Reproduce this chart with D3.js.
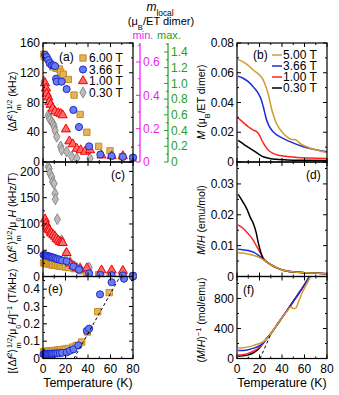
<!DOCTYPE html>
<html>
<head>
<meta charset="utf-8">
<script src="https://cdn.jsdelivr.net/npm/d3@7"></script>
<style>
body { margin: 0; background: #fff; }
svg { font-family: "Liberation Sans", Arial, sans-serif; }
</style>
</head>
<body>
<svg id="fig" width="339" height="395"></svg>
<script>
// ---- data ----
const fieldLabelsA = ["6.00 T", "3.66 T", "1.00 T", "0.30 T"];
const fieldLabelsB = ["5.00 T", "3.66 T", "1.00 T", "0.30 T"];

// (a) linewidth (kHz) vs T (K)
const widthA6 = [[0.8,145],[1.2,141.5],[2.5,140],[6.2,133],[8.6,128],[11.6,126],[14.5,125],[15.7,121],[18,118],[22.5,111],[27.6,90],[33,64],[39,40],[49.5,21],[59.6,15],[70.5,7],[80,5]];
const widthA366 = [[1.8,144],[3.3,141],[4.7,137],[6,133],[7.7,130],[9.2,130],[10.7,129],[11.6,112],[12.2,108],[16.6,108],[21,98],[27,70],[32,47],[41,21],[51,10],[61,8],[71,7],[80,6]];
const widthA1 = [[1.8,106],[2.7,99],[3.3,92],[4.7,87],[5.6,81],[6.8,77],[8.6,72],[10.7,68],[13.6,66],[15.7,65],[17.5,63],[20.4,44],[23.4,28],[26.4,24],[30,18],[33.5,16],[37.3,14],[41.8,16],[52,9],[61,8],[71,8]];
const widthA03 = [[1,108],[4.7,63],[5.5,60],[6.2,57],[7.7,54],[9.2,51],[10,47],[10.7,42],[12.2,34],[15.7,21],[16.6,16],[21,14],[25.5,7],[30,5],[41.8,5]];

// (c) linewidth / field (kHz/T)
const ratioC6 = [[0.5,26],[1.5,25.5],[2.5,25],[3.5,24.5],[4.5,24],[5.5,23.5],[6.5,23],[7.5,22.5],[8.5,22],[10,21.5],[11.5,21],[13,20.5],[14.5,20],[16,19.5],[18,19],[20,18],[22.5,17],[27.6,15],[33,11],[39,7],[49.5,3.5],[59.6,2.5],[70.5,1.2],[80,0.9]];
const ratioC366 = [[0.5,41],[1.5,40.5],[2.5,40],[3.5,39.5],[4.5,39],[5.5,38],[6.5,37.5],[7.5,37],[8.5,36],[10,35.5],[11.5,34],[13,33],[15,32],[17,30.5],[21,29],[27,19],[32,13],[41,6],[51,3],[61,2.5],[71,2],[80,1.6]];
const ratioC1 = [[1.8,109],[2.7,101],[3.8,95],[4.7,90],[5.6,88],[6.8,84],[7.7,82],[9.2,79],[10.7,76],[12,72],[13.6,69],[15,66],[16.5,65],[17.5,64],[21,45],[24,25],[27,20],[30,16],[33,14],[39,16],[52,12],[61,12],[71,11]];
const ratioC03 = [[4.7,209],[5.5,205],[6.2,196],[7.7,190],[8.6,180],[9.8,177],[10.7,158],[11,147],[12.7,109],[16.6,69],[20.4,44],[24,28],[28.4,19],[33,16],[41,17]];

// (e) inverse (T/kHz)
const invE6 = [[0.5,0.040],[1.5,0.040],[2.5,0.041],[3.5,0.041],[4.5,0.042],[5.5,0.042],[6.5,0.043],[7.5,0.044],[8.5,0.045],[10,0.046],[11.5,0.047],[13,0.048],[14.5,0.05],[16,0.051],[18,0.053],[20,0.055],[22.5,0.058],[26.4,0.066],[29.5,0.075],[34.4,0.095],[39.4,0.153],[48.6,0.27],[58.9,0.38],[71,0.48],[80,0.48]];
const invE366 = [[0.5,0.024],[1.5,0.025],[2.5,0.025],[3.5,0.025],[4.5,0.026],[5.5,0.026],[6.5,0.027],[7.5,0.027],[8.5,0.028],[10,0.028],[11.5,0.029],[13,0.030],[15,0.031],[17,0.033],[21,0.035],[24,0.045],[27,0.053],[31.4,0.076],[39,0.16],[41,0.172],[50.7,0.37],[61,0.44],[72,0.46],[80,0.472]];
const fitE = [[27.5,0],[68.5,0.473]];

// (b) M (muB / ET dimer)
const magB5 = [[1,0.0688],[5,0.0675],[10,0.065],[15,0.0615],[20,0.0585],[23,0.0555],[26,0.05],[28,0.045],[31,0.035],[35,0.026],[41,0.0193],[45,0.0165],[48.6,0.0152],[51,0.0151],[53,0.0146],[56,0.0125],[63,0.0099],[70,0.0082],[80,0.0062]];
const magB366 = [[1,0.0576],[5,0.0565],[10,0.054],[15,0.05],[19,0.046],[21.5,0.042],[23.4,0.037],[25,0.032],[26.4,0.028],[28,0.025],[30.8,0.0215],[34,0.019],[38,0.017],[47,0.0137],[59,0.0103],[71,0.008],[80,0.0069]];
const magB1 = [[1,0.0296],[5,0.027],[10,0.0237],[15,0.0213],[17.5,0.0204],[20,0.018],[22,0.0148],[24,0.012],[26.4,0.0092],[29,0.0072],[32,0.0058],[36,0.0047],[41,0.004],[53,0.0031],[65,0.0027],[80,0.0024]];
const magB03 = [[1,0.0145],[5,0.0125],[8,0.0108],[11.6,0.0092],[15,0.0075],[19,0.0054],[22,0.004],[26.4,0.0028],[30,0.0022],[35,0.0018],[45,0.0014],[60,0.0012],[80,0.001]];

// (d) M/H (emu/mol)
const chiD5 = [[1,0.0077],[5,0.0076],[10,0.0073],[15,0.0068],[20,0.0061],[25,0.0051],[28,0.0043],[32,0.0034],[36,0.0027],[41,0.002],[47,0.0016],[53,0.0014],[60,0.0012],[68,0.0011],[80,0.0009]];
const chiD366 = [[1,0.0088],[5,0.0087],[10,0.0084],[15,0.0078],[20,0.0066],[25,0.0052],[28,0.0043],[32,0.0034],[36,0.0027],[41,0.002],[47,0.0016],[53,0.0014],[60,0.0012],[68,0.0011],[80,0.0009]];
const chiD1 = [[1,0.0167],[5,0.0157],[8.6,0.0144],[12,0.013],[14.5,0.0117],[17,0.0101],[20.4,0.0079],[25,0.0052],[28,0.0043],[32,0.0034],[36,0.0027],[41,0.002],[47,0.0016],[53,0.0014],[60,0.0012],[68,0.0011],[80,0.0009]];
const chiD03 = [[1,0.0266],[3,0.0255],[5,0.0243],[8.6,0.022],[12,0.019],[14.5,0.0172],[17,0.0143],[19,0.0108],[21,0.008],[23.4,0.0056],[25,0.0051],[28,0.0043],[32,0.0034],[36,0.0027],[41,0.002],[47,0.0016],[53,0.0014],[60,0.0012],[68,0.0011],[80,0.0009]];

// (f) (M/H)^-1 (mol/emu)
const invF5 = [[1,140],[5,143],[10,155],[15,175],[20,200],[23,220],[26,255],[30,330],[35,435],[40,545],[45,640],[48,690],[50,665],[52,668],[55,770],[58,880],[62,995],[65.5,1095]];
const invF366 = [[1,105],[5,108],[10,118],[15,138],[20,170],[23,200],[26,255],[30,330],[35,435],[40,545],[45,650],[50,760],[55,870],[60,985],[64.5,1095]];
const invF1 = [[1,45],[5,50],[10,68],[15,100],[20,150],[23,200],[26,260],[30,330],[35,435],[40,545],[45,650],[50,760],[55,870],[60,985],[64.5,1095]];
const invF03 = [[1,30],[5,35],[10,48],[15,80],[18,110],[20,140],[23,200],[26,260],[30,330],[35,435],[40,545],[45,650],[50,760],[55,870],[60,985],[64.5,1095]];
const fitF = [[20.5,0],[30,320]];

// ---- styles ----
const col = {
	gold: { fill: "#e2b45e", stroke: "#c58d1c", line: "#d49a2a" },
	blue: { fill: "#6a7cec", stroke: "#1c2ad0", line: "#1b2be0" },
	red: { fill: "#ff6a6a", stroke: "#f00000", line: "#ff2222" },
	gray: { fill: "#bcbcbc", stroke: "#8a8a8a", line: "#000000" }
};
const magenta = "#f01cf0";
const green = "#23a023";
const tickFont = 12;

const svg = d3.select("#fig");
const defs = svg.append("defs");
let clipId = 0;

function fmtNum(d) {
	return d === 0 ? "0" : String(+d.toFixed(3));
}

function panel(o) {
	const x = d3.scaleLinear().domain([0, 80]).range([o.x0, o.x1]);
	const y = d3.scaleLinear().domain([0, o.yMax]).range([o.y1, o.y0]);
	const g = svg.append("g");
	const id = "clip" + clipId++;
	defs.append("clipPath").attr("id", id)
		.append("rect")
		.attr("x", o.x0 - 6).attr("y", o.y0)
		.attr("width", o.x1 - o.x0 + 12).attr("height", o.y1 - o.y0);
	const plot = g.append("g").attr("clip-path", `url(#${id})`);
	const axes = g.append("g").attr("stroke", "#000").attr("stroke-width", 1);

	const xMaj = d3.range(0, 81, 20), xMin = d3.range(10, 80, 20);
	const tick = (list, len) => {
		list.forEach(t => {
			axes.append("line").attr("x1", x(t)).attr("x2", x(t)).attr("y1", o.y1).attr("y2", o.y1 - len);
			axes.append("line").attr("x1", x(t)).attr("x2", x(t)).attr("y1", o.y0).attr("y2", o.y0 + len);
		});
	};
	tick(xMaj, 4);
	tick(xMin, 2);
	const ytick = (list, len) => {
		list.forEach(t => {
			axes.append("line").attr("x1", o.x0).attr("x2", o.x0 + len).attr("y1", y(t)).attr("y2", y(t));
			axes.append("line").attr("x1", o.x1).attr("x2", o.x1 - len).attr("y1", y(t)).attr("y2", y(t));
		});
	};
	ytick(o.yMajor, 4);
	ytick(o.yMinor, 2);
	axes.append("rect")
		.attr("x", o.x0).attr("y", o.y0)
		.attr("width", o.x1 - o.x0).attr("height", o.y1 - o.y0)
		.attr("fill", "none").attr("stroke-width", 1.2);

	g.selectAll(".ylab").data(o.yLabels).enter().append("text")
		.attr("x", o.x0 - 3).attr("y", d => y(d) + 4.2)
		.attr("text-anchor", "end").attr("font-size", tickFont)
		.text(fmtNum);

	if (o.xLabels) {
		g.selectAll(".xlab").data(xMaj).enter().append("text")
			.attr("x", d => x(d)).attr("y", o.y1 + 14)
			.attr("text-anchor", "middle").attr("font-size", tickFont)
			.text(d => d);
		g.append("text")
			.attr("x", (o.x0 + o.x1) / 2).attr("y", o.y1 + 28)
			.attr("text-anchor", "middle").attr("font-size", 12.4)
			.text("Temperature (K)");
	}
	g.append("text")
		.attr("x", o.tagX).attr("y", o.tagY)
		.attr("font-size", tickFont)
		.text(o.tag);
	return { x, y, plot, g };
}

function rich(sel, parts) {
	parts.forEach(p => {
		const t = sel.append("tspan").text(p.t);
		if (p.it) t.attr("font-style", "italic");
		if (p.sup) t.attr("baseline-shift", "super").attr("font-size", "70%");
		if (p.sub) t.attr("baseline-shift", "sub").attr("font-size", "70%");
		if (p.dx) t.attr("dx", p.dx);
	});
	return sel;
}

function yTitle(cx, cy, parts) {
	const t = svg.append("text")
		.attr("transform", `translate(${cx},${cy}) rotate(-90)`)
		.attr("text-anchor", "middle")
		.attr("font-size", 10.5);
	rich(t, parts);
}

function scatter(p, data, shape, c, size) {
	const sym = d3.symbol().type(shape).size(size);
	p.plot.append("g").selectAll("path").data(data).enter().append("path")
		.attr("d", sym)
		.attr("transform", d => `translate(${p.x(d[0])},${p.y(d[1])})`)
		.attr("fill", c.fill).attr("stroke", c.stroke).attr("stroke-width", 1);
}

function curve(p, data, color, dashed) {
	const line = d3.line().x(d => p.x(d[0])).y(d => p.y(d[1])).curve(d3.curveMonotoneX);
	p.plot.append("path").attr("d", line(data))
		.attr("fill", "none").attr("stroke", color)
		.attr("stroke-width", dashed ? 1 : 1.5)
		.attr("stroke-dasharray", dashed ? "3,2.5" : null);
}

const L = [43, 133], R = [237, 327];
const rowA = [43, 162], rowC = [162, 276.5], rowE = [276.5, 358.5];

// ---- panel (a) ----
const pA = panel({ x0: L[0], x1: L[1], y0: rowA[0], y1: rowA[1], yMax: 160,
	yMajor: [0, 40, 80, 120, 160], yMinor: [20, 60, 100, 140], yLabels: [0, 40, 80, 120, 160],
	tag: "(a)", tagX: 59, tagY: 61 });
scatter(pA, widthA03, d3.symbolDiamond, col.gray, 34);
scatter(pA, widthA6, d3.symbolSquare, col.gold, 40);
scatter(pA, widthA1, d3.symbolTriangle, col.red, 36);
scatter(pA, widthA366, d3.symbolCircle, col.blue, 40);

// legend (a)
const legA = [
	{ shape: d3.symbolSquare, c: col.gold, size: 40 },
	{ shape: d3.symbolCircle, c: col.blue, size: 40 },
	{ shape: d3.symbolTriangle, c: col.red, size: 36 },
	{ shape: d3.symbolDiamond, c: col.gray, size: 34 }
];
legA.forEach((d, i) => {
	const yy = 58 + i * 11.5;
	svg.append("path").attr("d", d3.symbol().type(d.shape).size(d.size)())
		.attr("transform", `translate(83,${yy})`)
		.attr("fill", d.c.fill).attr("stroke", d.c.stroke);
	svg.append("text").attr("x", 89).attr("y", yy + 4.2).attr("font-size", tickFont).text(fieldLabelsA[i]);
});

// ---- panel (c) ----
const pC = panel({ x0: L[0], x1: L[1], y0: rowC[0], y1: rowC[1], yMax: 218,
	yMajor: [0, 50, 100, 150, 200], yMinor: [25, 75, 125, 175], yLabels: [50, 100, 150, 200],
	tag: "(c)", tagX: 111, tagY: 179 });
scatter(pC, ratioC03, d3.symbolDiamond, col.gray, 34);
scatter(pC, ratioC6, d3.symbolSquare, col.gold, 40);
scatter(pC, ratioC1, d3.symbolTriangle, col.red, 36);
scatter(pC, ratioC366, d3.symbolCircle, col.blue, 40);
pC.g.append("text").attr("x", L[0] - 3).attr("y", rowC[1] + 4.2).attr("text-anchor", "end").attr("font-size", tickFont).text("0");

// ---- panel (e) ----
const pE = panel({ x0: L[0], x1: L[1], y0: rowE[0], y1: rowE[1], yMax: 0.473,
	yMajor: [0, 0.1, 0.2, 0.3, 0.4], yMinor: [0.05, 0.15, 0.25, 0.35, 0.45], yLabels: [0, 0.1, 0.2, 0.3, 0.4],
	xLabels: true, tag: "(e)", tagX: 48, tagY: 293 });
scatter(pE, invE6, d3.symbolSquare, col.gold, 40);
scatter(pE, invE366, d3.symbolCircle, col.blue, 40);
curve(pE, fitE, "#000", true);

// ---- panel (b) ----
const pB = panel({ x0: R[0], x1: R[1], y0: rowA[0], y1: rowA[1], yMax: 0.08,
	yMajor: [0, 0.02, 0.04, 0.06, 0.08], yMinor: [0.01, 0.03, 0.05, 0.07], yLabels: [0, 0.02, 0.04, 0.06, 0.08],
	tag: "(b)", tagX: 253, tagY: 59 });
curve(pB, magB03, col.gray.line);
curve(pB, magB1, col.red.line);
curve(pB, magB366, col.blue.line);
curve(pB, magB5, col.gold.line);
[col.gold.line, col.blue.line, col.red.line, "#000"].forEach((c, i) => {
	const yy = 55 + i * 11;
	svg.append("line").attr("x1", 272).attr("x2", 282).attr("y1", yy).attr("y2", yy)
		.attr("stroke", c).attr("stroke-width", 1.5);
	svg.append("text").attr("x", 283).attr("y", yy + 4.2).attr("font-size", tickFont).text(fieldLabelsB[i]);
});

// ---- panel (d) ----
const pD = panel({ x0: R[0], x1: R[1], y0: rowC[0], y1: rowC[1], yMax: 0.0371,
	yMajor: [0, 0.01, 0.02, 0.03], yMinor: [0.005, 0.015, 0.025, 0.035], yLabels: [0.01, 0.02, 0.03],
	tag: "(d)", tagX: 306, tagY: 179 });
curve(pD, chiD366, col.blue.line);
curve(pD, chiD1, col.red.line);
curve(pD, chiD03, "#000");
curve(pD, chiD5, col.gold.line);
pD.g.append("text").attr("x", R[0] - 3).attr("y", rowC[1] + 4.2).attr("text-anchor", "end").attr("font-size", tickFont).text("0");

// ---- panel (f) ----
const pF = panel({ x0: R[0], x1: R[1], y0: rowE[0], y1: rowE[1], yMax: 1093,
	yMajor: [0, 400, 800], yMinor: [200, 600, 1000], yLabels: [0, 400, 800],
	xLabels: true, tag: "(f)", tagX: 243, tagY: 294 });
curve(pF, invF03, "#000");
curve(pF, invF1, col.red.line);
curve(pF, invF366, col.blue.line);
curve(pF, invF5, col.gold.line);
curve(pF, fitF, "#000", true);

// ---- y titles ----
yTitle(16, 102, [{ t: "⟨Δ" }, { t: "f", it: true }, { t: "2", sup: true }, { t: "⟩" }, { t: "m", sub: true }, { t: "1/2", sup: true, dx: -5.5 }, { t: " (kHz)" }]);
yTitle(16, 218, [{ t: "⟨Δ" }, { t: "f", it: true }, { t: "2", sup: true }, { t: "⟩" }, { t: "m", sub: true }, { t: "1/2", sup: true, dx: -5.5 }, { t: "/μ" }, { t: "0", sub: true }, { t: "H", it: true }, { t: " (kHz/T)" }]);
yTitle(16, 321, [{ t: "[⟨Δ" }, { t: "f", it: true }, { t: "2", sup: true }, { t: "⟩" }, { t: "m", sub: true }, { t: "1/2", sup: true, dx: -5.5 }, { t: "/μ" }, { t: "0", sub: true }, { t: "H", it: true }, { t: "]" }, { t: "−1", sup: true }, { t: " (T/kHz)" }]);
yTitle(205, 102, [{ t: "M", it: true }, { t: " (μ" }, { t: "B", sub: true }, { t: "/ET dimer)" }]);
yTitle(205, 220, [{ t: "M", it: true }, { t: "/" }, { t: "H", it: true }, { t: " (emu/mol)" }]);
yTitle(205, 320, [{ t: "(" }, { t: "M", it: true }, { t: "/" }, { t: "H", it: true }, { t: ")" }, { t: "−1", sup: true }, { t: " (mol/emu)" }]);

// ---- local moment axes on panel (a) ----
const yMinScale = d3.scaleLinear().domain([0, 0.714]).range([rowA[1], rowA[0]]);
const yMaxScale = d3.scaleLinear().domain([0, 1.514]).range([rowA[1], rowA[0]]);
const minTicks = [0, 0.2, 0.4, 0.6], minMinor = [0.1, 0.3, 0.5, 0.7];
const maxTicks = [0, 0.2, 0.4, 0.6, 0.8, 1.0, 1.2, 1.4], maxMinor = [0.1, 0.3, 0.5, 0.7, 0.9, 1.1, 1.3, 1.5];

function sideAxis(xPos, scale, major, minor, color) {
	const g = svg.append("g").attr("stroke", color);
	g.append("line").attr("x1", xPos).attr("x2", xPos).attr("y1", rowA[0]).attr("y2", rowA[1]).attr("stroke-width", 1.2);
	major.forEach(t => g.append("line").attr("x1", xPos - 4).attr("x2", xPos).attr("y1", scale(t)).attr("y2", scale(t)));
	minor.forEach(t => g.append("line").attr("x1", xPos - 2).attr("x2", xPos).attr("y1", scale(t)).attr("y2", scale(t)));
	svg.append("g").selectAll("text").data(major).enter().append("text")
		.attr("x", xPos + 3).attr("y", d => scale(d) + 4.2)
		.attr("font-size", tickFont).attr("fill", color)
		.text(d => d === 0 ? "0" : d.toFixed(1));
}
sideAxis(140, yMinScale, minTicks, minMinor, magenta);
sideAxis(168, yMaxScale, maxTicks, maxMinor, green);

const topTitle = svg.append("text").attr("x", 160).attr("y", 11).attr("text-anchor", "middle").attr("font-size", 12);
rich(topTitle, [{ t: "m", it: true }, { t: "local", sub: true }]);
const unitTitle = svg.append("text").attr("x", 161).attr("y", 24.5).attr("text-anchor", "middle").attr("font-size", 11);
rich(unitTitle, [{ t: "(μ" }, { t: "B", sub: true }, { t: "/ET dimer)" }]);
svg.append("text").attr("x", 143).attr("y", 38.5).attr("text-anchor", "middle").attr("font-size", 11).attr("fill", magenta).text("min.");
svg.append("text").attr("x", 169).attr("y", 38.5).attr("text-anchor", "middle").attr("font-size", 11).attr("fill", green).text("max.");
</script>
</body>
</html>
